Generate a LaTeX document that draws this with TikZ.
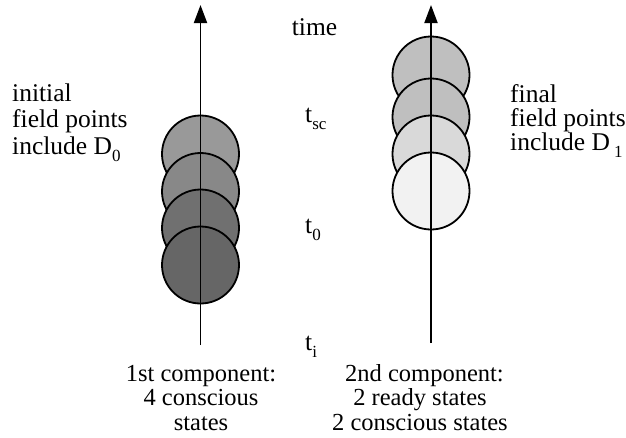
\documentclass[tikz,border=0pt]{standalone}
\usepackage{fontspec}
\setmainfont{Liberation Serif}
\usetikzlibrary{arrows.meta}
\newcommand{\lowsub}[1]{\raisebox{-7pt}{\fontsize{17}{17}\selectfont #1}}
\definecolor{ink}{RGB}{0,0,0}
\definecolor{shadeA}{RGB}{153,153,153}
\definecolor{shadeB}{RGB}{136,136,136}
\definecolor{shadeC}{RGB}{112,112,112}
\definecolor{shadeD}{RGB}{102,102,102}
\definecolor{paleA}{RGB}{191,191,191}
\definecolor{paleB}{RGB}{191,191,191}
\definecolor{paleC}{RGB}{217,217,217}
\definecolor{paleD}{RGB}{242,242,242}

\begin{document}
\begin{tikzpicture}[x=1pt,y=-1pt,
  state/.style={circle,draw=ink,line width=1.8pt,minimum size=77pt,inner sep=0pt},
  axis/.style={ink,line width=1.9pt,-{Triangle[length=18pt,width=13pt]}},
  lbl/.style={inner sep=0pt,font=\fontsize{25.5}{26.5}\selectfont},
  cmp/.style={inner sep=0pt,align=center,font=\fontsize{24.5}{24.5}\selectfont}]
 \useasboundingbox (0,0) rectangle (626,437);
 % first component: four conscious states
 \node[state,fill=shadeA] (c1) at (200.5,154) {};
 \node[state,fill=shadeB] (c2) at (200.5,191.5) {};
 \node[state,fill=shadeC] (c3) at (200.5,228) {};
 \node[state,fill=shadeD] (c4) at (200.5,265) {};
 % second component: two conscious, two ready states
 \node[state,fill=paleA] (r1) at (431,75) {};
 \node[state,fill=paleB] (r2) at (431,117) {};
 \node[state,fill=paleC] (r3) at (431,154) {};
 \node[state,fill=paleD] (r4) at (431,191) {};
 % time axes
 \coordinate (l-foot) at (200.5,345);
 \coordinate (l-head) at (200.5,5);
 \coordinate (r-foot) at (431,343);
 \coordinate (r-head) at (431,5);
 \draw[axis] (l-foot) -- (l-head);
 \draw[axis] (r-foot) -- (r-head);
 % time marks
 \node[lbl,anchor=base] (time) at (314.5,35) {time};
 \node[lbl,anchor=base west] (tsc) at (305,122) {t\lowsub{sc}};
 \node[lbl,anchor=base west] (t0) at (305,233) {t\lowsub{0}};
 \node[lbl,anchor=base west] (ti) at (305,350) {t\lowsub{i}};
 % side labels (base = last line)
 \node[lbl,align=left,anchor=base west] (initial) at (12,154) {initial\\field points\\include D\lowsub{0}};
 \node[lbl,align=left,anchor=base west,font=\fontsize{25.5}{24}\selectfont] (final) at (510,150) {final\\field points\\include D\hspace{4pt}\lowsub{1}};
 % component labels
 \node[cmp,anchor=base] (first) at (201,430) {1st component:\\4 conscious\\states};
 \node[cmp,anchor=base] (second) at (420,430) {\hspace*{9pt}2nd component:\\2 ready states\\2 conscious states};
\end{tikzpicture}
\end{document}
